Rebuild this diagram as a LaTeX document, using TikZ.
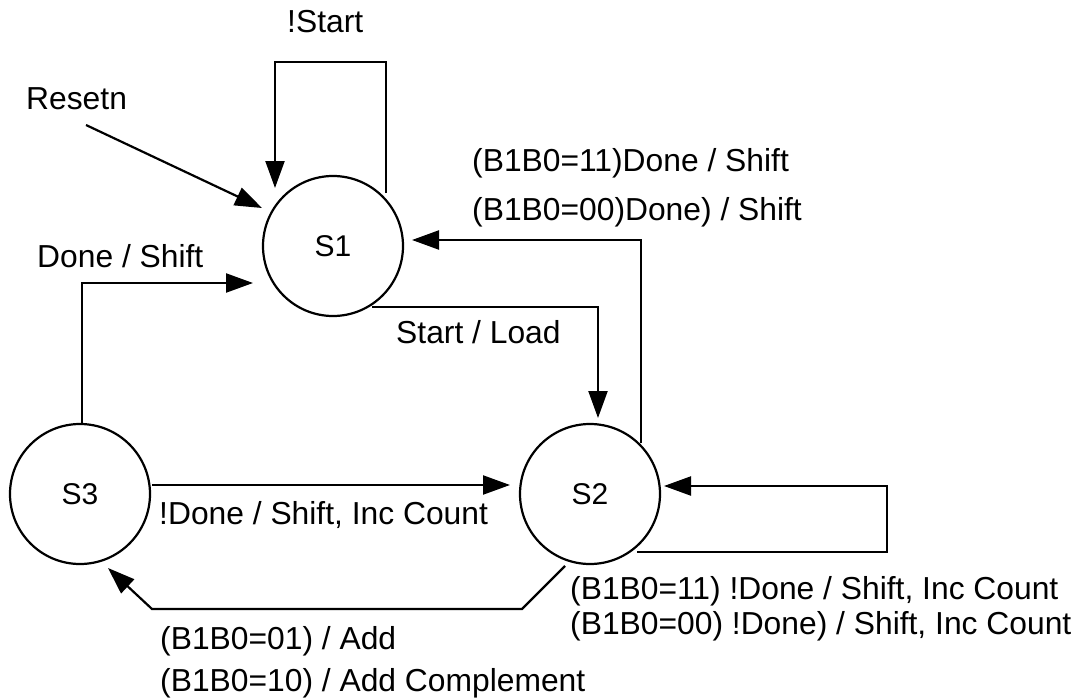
\documentclass[tikz,border=0pt]{standalone}
\usepackage{fontspec}
\setmainfont{Liberation Sans}
\usetikzlibrary{arrows.meta,calc}
\begin{document}
\begin{tikzpicture}[x=1pt,y=-1pt,
  every node/.style={font=\fontsize{31.8}{38}\selectfont},
  state/.style={draw,circle,line width=2.2pt,minimum size=140pt,inner sep=0pt,
    font=\fontsize{30}{36}\selectfont},
  arr/.style={draw,line width=2.2pt,-{Triangle[length=27pt,width=19pt]}},
  lbl/.style={anchor=base west,inner sep=0pt}]
\useasboundingbox (0,0) rectangle (1081,698);

% states
\node[state] (S1) at (333,246) {S1};
\node[state] (S2) at (590,494) {S2};
\node[state] (S3) at (80,494) {S3};

% free ends and bends
\coordinate (rst) at (86,125);
\coordinate (lpL) at (275,62);
\coordinate (lpR) at (386,62);
\coordinate (lpS2) at (887,552);
\coordinate (bA) at (522,609);
\coordinate (bB) at (152,609);

% reset entry
\draw[arr] (rst) -- ($(S1)+(-71,-38)$);
% S1 self loop
\draw[arr] ($(S1)+(53,-53)$) -- (lpR) -- (lpL) -- ($(S1)+(-58,-58)$);
% S2 -> S1
\draw[arr] ($(S2)+(51,-51)$) |- ($(S1)+(79,-6)$);
% S3 -> S1
\draw[arr] ($(S3)+(2,-70)$) |- ($(S1)+(-80,37)$);
% S1 -> S2
\draw[arr] ($(S1)+(39,61)$) -| ($(S2)+(8,-76)$);
% S3 -> S2
\draw[arr] ($(S3)+(72,-9)$) -- ($(S2)+(-80,-9)$);
% S2 self loop
\draw[arr] ($(S2)+(47,58)$) -- (lpS2) |- ($(S2)+(74,-8)$);
% S2 -> S3
\draw[arr] ($(S2)+(-25,72)$) -- (bA) -- (bB) -- ($(S3)+(28,74)$);

% transition labels
\node[lbl] (tStart) at (287,33) {!Start};
\node[lbl] (tReset) at (26,110) {Resetn};
\node[lbl] (t21a) at (472,171) {(B1B0=11)Done / Shift};
\node[lbl] (t21b) at (472,220) {(B1B0=00)Done) / Shift};
\node[lbl] (t31) at (37,267) {Done / Shift};
\node[lbl] (t12) at (396,343) {Start / Load};
\node[lbl] (t32) at (159,524) {!Done / Shift, Inc Count};
\node[lbl] (t22a) at (570,599) {(B1B0=11) !Done / Shift, Inc Count};
\node[lbl] (t22b) at (570,634) {(B1B0=00) !Done) / Shift, Inc Count};
\node[lbl] (t23a) at (160,649) {(B1B0=01) / Add};
\node[lbl] (t23b) at (160,691) {(B1B0=10) / Add Complement};
\end{tikzpicture}
\end{document}
